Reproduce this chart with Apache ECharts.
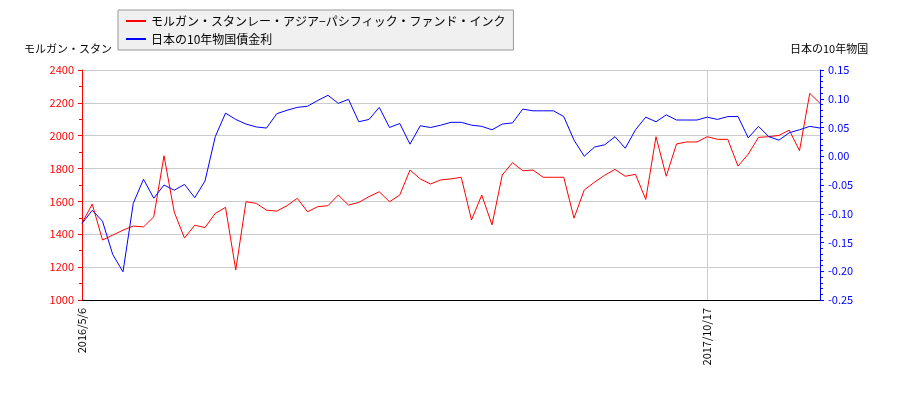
<!DOCTYPE html>
<html><head><meta charset="utf-8">
<script src="https://cdn.jsdelivr.net/npm/echarts@6/dist/echarts.min.js"></script>
<style>body{margin:0}#c{width:900px;height:400px}</style>
</head><body><div id="c"></div>
<script>
// 2016/5/6 から 2018年初めまで、73点
const dateLabels = { 0: '2016/5/6', 61: '2017/10/17' }
const stockValues = [
	1467, 1584, 1365, 1395, 1425, 1450, 1445, 1506, 1878, 1535,
	1377, 1455, 1441, 1527, 1564, 1183, 1598, 1588, 1547, 1541,
	1574, 1619, 1537, 1568, 1574, 1639, 1578, 1594, 1629, 1659,
	1598, 1639, 1791, 1737, 1706, 1731, 1737,
	1747, 1487, 1639, 1457, 1761, 1836, 1787, 1791, 1747, 1747,
	1747, 1498, 1670, 1717, 1760, 1795, 1753, 1765, 1612, 1994,
	1753, 1950, 1962, 1962, 1994, 1978, 1978, 1815, 1888, 1990,
	1994, 2002, 2034, 1909, 2258, 2197,
]
const bondValues = [
	-0.117, -0.094, -0.113, -0.171, -0.201, -0.082, -0.040, -0.073, -0.050, -0.059,
	-0.049, -0.072, -0.043, 0.034, 0.075, 0.064, 0.056, 0.051, 0.049, 0.074,
	0.080, 0.085, 0.087, 0.097, 0.106, 0.092, 0.099, 0.060, 0.064, 0.085,
	0.050, 0.057, 0.021, 0.053, 0.050, 0.054, 0.059,
	0.059, 0.054, 0.052, 0.046, 0.056, 0.058, 0.082, 0.079, 0.079, 0.079,
	0.069, 0.028, 0.000, 0.016, 0.020, 0.034, 0.014, 0.046, 0.068, 0.060,
	0.072, 0.063, 0.063, 0.063, 0.068, 0.064, 0.069, 0.069, 0.032, 0.052,
	0.034, 0.028, 0.041, 0.046, 0.052, 0.049,
]
const categories = stockValues.map((v, i) => dateLabels[i] || String(i))
const leftName = 'モルガン・スタン'
const rightName = '日本の10年物国'
const stockName = 'モルガン・スタンレー・アジア−パシフィック・ファンド・インク'
const bondName = '日本の10年物国債金利'

const chart = echarts.init(document.getElementById('c'))
const shown = (i) => dateLabels[i] !== undefined
chart.setOption({
	animation: false,
	textStyle: { fontFamily: 'Noto Sans CJK JP' },
	grid: { left: 82, right: 80, top: 70, bottom: 100 },
	legend: {
		left: 118, top: 10, width: 420, orient: 'vertical',
		backgroundColor: '#f0f0f0', borderColor: '#999', borderWidth: 1,
		padding: [5, 8], itemGap: 6, itemWidth: 20, itemHeight: 2,
		textStyle: { fontSize: 12, color: '#000' },
		data: [
			{ name: stockName, icon: 'rect' },
			{ name: bondName, icon: 'rect' },
		],
	},
	xAxis: {
		type: 'category', data: categories, boundaryGap: false,
		axisLine: { onZero: false, lineStyle: { color: '#000' } },
		axisTick: { show: false },
		axisLabel: { rotate: 90, color: '#000', fontSize: 11, interval: (i) => shown(i) },
		splitLine: { show: true, interval: (i) => i === 61, lineStyle: { color: '#ccc' } },
	},
	yAxis: [
		{
			type: 'value', min: 1000, max: 2400, interval: 200,
			name: leftName, nameGap: 16, nameTextStyle: { color: '#000', fontSize: 11, align: 'right', padding: [0, -30, 0, 0] },
			axisLine: { show: true, lineStyle: { color: 'red' } },
			axisTick: { show: true, length: 4 },
			minorTick: { show: true, splitNumber: 2, length: 3 },
			axisLabel: { color: 'red', fontSize: 11, formatter: (v) => String(v) },
			splitLine: { lineStyle: { color: '#ccc' } },
		},
		{
			type: 'value', min: -0.25, max: 0.15, interval: 0.05,
			name: rightName, nameGap: 16, nameTextStyle: { color: '#000', fontSize: 11, align: 'left', padding: [0, 0, 0, -30] },
			axisLine: { show: true, lineStyle: { color: 'blue' } },
			axisTick: { show: true, length: 4 },
			minorTick: { show: true, splitNumber: 5, length: 3 },
			axisLabel: { color: 'blue', fontSize: 11, formatter: (v) => v.toFixed(2) },
			splitLine: { show: false },
		},
	],
	series: [
		{ name: stockName, type: 'line', data: stockValues, yAxisIndex: 0, symbol: 'none', lineStyle: { color: 'red', width: 1 }, itemStyle: { color: 'red' } },
		{ name: bondName, type: 'line', data: bondValues, yAxisIndex: 1, symbol: 'none', lineStyle: { color: 'blue', width: 1 }, itemStyle: { color: 'blue' } },
	],
})
</script></body></html>
